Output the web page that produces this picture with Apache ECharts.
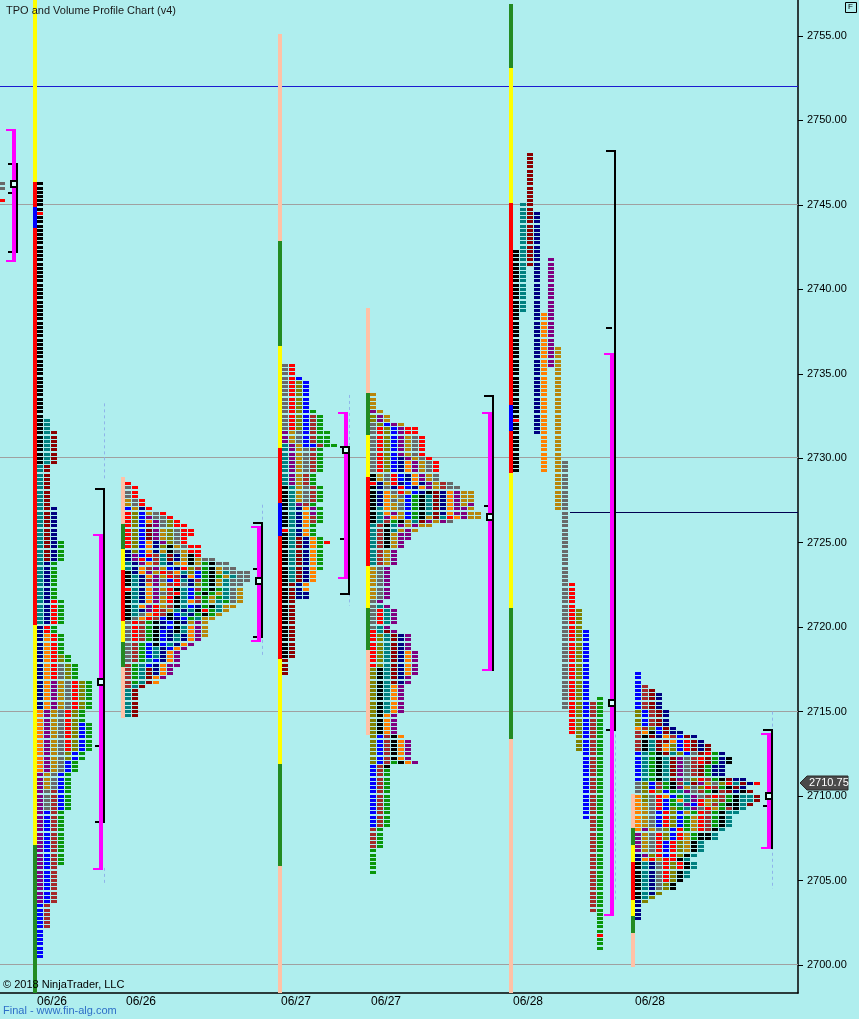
<!DOCTYPE html>
<html><head><meta charset="utf-8">
<script src="https://cdn.jsdelivr.net/npm/echarts@6/dist/echarts.min.js"></script>
<style>html,body{margin:0;padding:0;background:#AFEEEE;}#c{width:859px;height:1019px;}</style>
</head><body><div id="c"></div>
<script>
// ---------------- axis ranges / ticks ----------------
const Y_MIN = 2698.342, Y_MAX = 2757.131;
const X_MAX = 114;                 // x axis in TPO column slots
const yTicks = [2700, 2705, 2710, 2715, 2720, 2725, 2730, 2735, 2740, 2745, 2750, 2755];
const xLabelPos = [7.43, 20.14, 42.29, 55.14, 75.43, 92.86];
const xLabels = ['06/26', '06/26', '06/27', '06/27', '06/28', '06/28'];
const lastPrice = 2710.75;

// ---------------- sessions (A..G) ----------------
const barX = [-0.72, 4.71, 17.29, 39.71, 52.29, 72.71, 90.14];   // session start (slot)
const profTop = [2746.25, 2746.25, 2728.5, 2735.5, 2733.75, null, 2717.25];

// TPO rows: [row count, letters left to right]
const profA_rows = [[2, 'a'], [2, ''], [1, 'r']];
const profB_rows = [[7,'k'],[1,'r'],[48,'k'],[3,'kt'],[8,'ktm'],[10,'tm'],[8,'tmn'],[5,'tmng'],[9,'tng'],[6,'tnrg'],[2,'nrg'],[5,'norg'],[2,'norvg'],[4,'noravg'],[7,'nopdarvg'],[3,'opdarvg'],[7,'opdarvbg'],[2,'opdavbg'],[3,'opdabg'],[4,'pdabg'],[5,'pawbg'],[13,'pbwg'],[9,'pbw'],[6,'bw'],[7,'b']];
const profC_rows = [[1,'r'],[3,'ar'],[2,'dar'],[1,'bdnr'],[1,'rvbdar'],[1,'rvbpaar'],[1,'rvbopavr'],[1,'rvbmpavrr'],[2,'rvbmpdvarr'],[1,'rvbmpdvar'],[1,'rvbonpvar'],[1,'rvbonvkdarr'],[1,'nvbondkadrr'],[1,'npbrwtmndkr'],[1,'nprbwtmndkdaa'],[1,'tnpowtndokdgkaa'],[1,'tnowpdbnrvwgkdaa'],[1,'knopdrwotvbgkdtaaa'],[1,'ktnopdrwnobgkgdtaa'],[1,'ktnwpabrtnwgkdtaaa'],[1,'ktnopdwranvgkdtaa'],[1,'rtnopdrktbwgkgtad'],[1,'ktnopawrtbgkgdtad'],[1,'ktnopdrktbwgdgtad'],[1,'ktnopdrktowgdtgad'],[1,'ktoprdwktbngktdd'],[1,'ktnprwdtntkrgtd'],[1,'ktaorwkbtngkgd'],[1,'kaorwbknbgtdd'],[1,'arwgknbkndpd'],[1,'arwgknbktopd'],[1,'arwgkbnktopd'],[1,'arwgkbntnopd'],[1,'arwgkbntnop'],[1,'awgbkbtnop'],[1,'awgbtnbop'],[2,'awgbtnop'],[1,'awgtbnop'],[1,'wgtbnopp'],[2,'wgtmnop'],[1,'wgtmop'],[1,'wgtmo'],[1,'wtm'],[7,'tm']];
const profD_rows = [[3,'ar'],[1,'arb'],[7,'arvb'],[1,'arvbg'],[4,'arvbwg'],[3,'pdabwgg'],[1,'tpdbbwgg'],[6,'tpdawg'],[3,'tpdwg'],[4,'ktdawg'],[1,'ktpwg'],[2,'ktnopg'],[2,'ktnowg'],[1,'ktnog'],[1,'rtnog'],[1,'ktnog'],[1,'ktmnog'],[1,'ktmnogr'],[6,'ktmnog'],[3,'ktmno'],[2,'kmno'],[2,'kmnn'],[14,'km'],[4,'m']];
const profE_rows = [[4,'d'],[1,'pd'],[2,'vpd'],[1,'avbpd'],[2,'arvbprr'],[5,'arvbpdar'],[1,'arvbnpdar'],[3,'arvbnopdar'],[2,'kdarbnopda'],[1,'rndrnbonpdwa'],[1,'knanrbnopdwaa'],[1,'knoardbnkmnopdd'],[1,'knodabgktmnopdd'],[1,'knoadbgktmnopdd'],[1,'knodabgktmnopdp'],[1,'ktodabgktmnoppd'],[1,'ktopdbgktmnoppdd'],[1,'ktpodbgkdmtropdd'],[1,'ktwgkdtmpdpa'],[1,'twktpdpdd'],[1,'twktdpd'],[2,'twkdpp'],[2,'twkdp'],[4,'twdp'],[8,'dap'],[1,'ap'],[1,'atp'],[4,'artp'],[1,'atp'],[1,'rtmp'],[4,'rvtmnp'],[4,'rvtmnop'],[2,'vktmnop'],[2,'vktmnp'],[7,'vktop'],[5,'vkop'],[1,'vbwko'],[5,'vbwkop'],[1,'vbwgkop'],[1,'bwk'],[14,'bwg'],[5,'wg'],[6,'g']];
const profG_rows = [[3,'b'],[1,'bw'],[1,'bwm'],[4,'bwmn'],[4,'vbwmn'],[1,'owvbmn'],[1,'wokbmnn'],[1,'wkmnowbmn'],[1,'wktmmobrmn'],[2,'wktmovbrmnm'],[1,'btgkmtvbamrgn'],[2,'btgktmpawrmgnk'],[3,'btgktmpawmgnn'],[1,'btgktmpavrwgkmnn'],[1,'avbwgkwtmpdavrtmnr'],[1,'avbwgkpdavrwgkmn'],[1,'avrvbgtpawgkwmnkm'],[1,'ovarobgtpawrwgkttm'],[1,'ovarbgotprdvwgkttm'],[1,'odarbgtpbrdwgkktm'],[1,'odarbvgtpardgwkt'],[1,'odabrvbdgrwgktt'],[3,'odabrvbgdrwgkt'],[1,'opdavbrgdrwkt'],[2,'pdarvbrdgkkt'],[3,'pdarbrvdkt'],[1,'npvrbrvkt'],[1,'nordrrkt'],[2,'ktnarvrkt'],[2,'ktnarvkt'],[1,'ktnarvk'],[2,'ktnavk'],[1,'ktnv'],[1,'ktv'],[1,'nv'],[4,'n']];
// split profile F: [column, letter, high, low]
const profF_cols = [[0,'k',2742.25,2729.25],[1,'t',2745,2738.75],[2,'m',2748,2741.5],[3,'n',2744.5,2731.5],[4,'o',2738.5,2729.25],[5,'p',2741.75,2735.5],[6,'d',2736.5,2727],[7,'a',2729.75,2715.25],[8,'r',2722.5,2713.75],[9,'v',2721,2712.75],[10,'b',2719.75,2708.75],[11,'w',2715.5,2703.25],[12,'g',2715.75,2701]];
const profF_marks = [[0,'r',2732.25],[12,'r',2701.75]];

// period bars: [high row, low row, colour]
const barB = [[2760,2746.5,'Y'],[2746.25,2720.25,'R'],[2744.75,2743.75,'B'],[2720,2707.25,'Y'],[2707,2695,'G']];
const barC = [[2728.75,2726.25,'P'],[2726,2724.75,'G'],[2724.5,2723.5,'Y'],[2723.25,2720.5,'R'],[2720.25,2719.25,'Y'],[2719,2717.75,'G'],[2717.5,2714.75,'P']];
const barD = [[2755,2743,'P'],[2742.75,2736.75,'G'],[2736.5,2730.75,'Y'],[2730.5,2727.5,'R'],[2727.25,2725.5,'B'],[2725.25,2718.25,'R'],[2718,2712,'Y'],[2711.75,2706,'G'],[2705.75,2695,'P']];
const barE = [[2738.75,2734,'P'],[2733.75,2731.5,'G'],[2731.25,2729,'Y'],[2728.75,2723.75,'R'],[2723.5,2721.25,'Y'],[2721,2718.75,'G'],[2718.5,2713.75,'P']];
const barF = [[2756.75,2753.25,'G'],[2753,2745.25,'Y'],[2745,2729.25,'R'],[2733,2731.75,'B'],[2729,2721.25,'Y'],[2721,2713.5,'G'],[2713.25,2695,'P']];
const barG = [[2710,2708.25,'P'],[2708,2707.25,'G'],[2707,2706.25,'Y'],[2706,2704,'R'],[2703.75,2703,'Y'],[2702.75,2702,'G'],[2701.75,2700,'P']];

// value area (magenta), range (black), POC
const vaX = [1.71, 14.14, 36.71, 49.14, 69.71, 87.14, 109.57];
const vaHi = [2749.5, 2725.5, 2726, 2732.75, 2732.75, 2736.25, 2713.75];
const vaLo = [2741.75, 2705.75, 2719.25, 2723, 2717.5, 2703, 2707];
const rangeHi = [2747.5, 2728.25, 2726.25, 2730.75, 2733.75, 2748.25, 2714];
const rangeLo = [2742.25, 2708.5, 2719.5, 2722, 2717.5, 2714, 2707];
const rangeTick = [2745.75, 2713, 2723.5, 2725.25, 2727.25, 2737.75, 2709.5];
const pocPrice = [2746.25, 2716.75, 2722.75, 2730.5, 2726.5, 2715.5, 2710];
const dashSegs = [[1,2733.25,2728.75],[1,2705.75,2704.75],[2,2727.25,2725.5],[2,2719.25,2718.25],[3,2733.75,2730.75],[3,2722,2721.25],[5,2714,2703.75],[6,2715,2713.75],[6,2707,2704.5]];

// horizontal lines
const grayLevels = [2745, 2730, 2715, 2700];
const blueLevel = 2752;
const nakedPoc = [81.43, 2726.75];

// ---------------- colours ----------------
const keys = 'ktmngropdavbwPGYRB';
const cols = ['#000000','#008080','#8B0000','#000080','#0A960A','#FF0000','#FF8000','#800080','#B8860B','#696969','#808000','#0000FF','#A52A2A',
              '#FFC1A6','#228B22','#FFFF00','#FF0000','#0000FF'];
const CELL_OFF = 4 / 7, CELL_W = 6 / 7, BAR_W = 4 / 7;

// ---------------- build cells ----------------
const cells = [];
function addRows(si, rows) {
  let price = profTop[si];
  const x0 = barX[si] + CELL_OFF;
  rows.forEach(([n, s]) => {
    for (let j = 0; j < n; j++) {
      for (let k = 0; k < s.length; k++) cells.push([x0 + k, price, keys.indexOf(s[k])]);
      price -= 0.25;
    }
  });
}
addRows(0, profA_rows); addRows(1, profB_rows); addRows(2, profC_rows);
addRows(3, profD_rows); addRows(4, profE_rows); addRows(6, profG_rows);
(function () {
  const x0 = barX[5] + CELL_OFF;
  profF_cols.forEach(([k, l, hi, lo]) => {
    for (let p = hi; p >= lo - 1e-6; p -= 0.25) {
      const m = profF_marks.find(q => q[0] === k && Math.abs(q[2] - p) < 1e-6);
      cells.push([x0 + k, p, keys.indexOf(m ? m[1] : l)]);
    }
  });
})();

const bars = [];
[[1, barB], [2, barC], [3, barD], [4, barE], [5, barF], [6, barG]].forEach(([si, segs]) => {
  segs.forEach(([hi, lo, c]) => bars.push([barX[si], hi, lo, keys.indexOf(c)]));
});

// ---------------- chart ----------------
const chart = echarts.init(document.getElementById('c'), null, { width: 859, height: 1019 });
const FONT = "'Liberation Sans', Arial, sans-serif";

chart.setOption({
  animation: false,
  backgroundColor: '#AFEEEE',
  grid: { left: 0, top: 0, right: 61, bottom: 26, containLabel: false },
  xAxis: {
    type: 'value', min: 0, max: X_MAX, position: 'bottom',
    axisLine: { show: true, onZero: false, lineStyle: { color: '#000', width: 1.5 } },
    axisTick: { show: false },
    splitLine: { show: false },
    axisLabel: {
      customValues: xLabelPos, margin: 3, color: '#000', fontSize: 12, fontFamily: FONT,
      formatter: v => { const i = xLabelPos.findIndex(q => Math.abs(q - v) < 1e-6); return i >= 0 ? xLabels[i] : ''; }
    }
  },
  yAxis: {
    type: 'value', min: Y_MIN, max: Y_MAX, position: 'right',
    axisLine: { show: true, onZero: false, lineStyle: { color: '#000', width: 1.5 } },
    axisTick: { show: true, inside: false, length: 5, customValues: yTicks, lineStyle: { color: '#000' } },
    splitLine: { show: false },
    axisLabel: { customValues: yTicks, margin: 9, color: '#000', fontSize: 11, fontFamily: FONT, formatter: v => v.toFixed(2) }
  },
  graphic: [
    { type: 'text', z: 100, left: 6, top: 5, style: { text: 'TPO and Volume Profile Chart (v4)', fill: '#1a1a1a', font: '11px ' + FONT } },
    { type: 'text', z: 100, left: 3, top: 979, style: { text: '\u00A9 2018 NinjaTrader, LLC', fill: '#000', font: '11px ' + FONT } },
    { type: 'text', z: 100, left: 3, top: 1005, style: { text: 'Final - www.fin-alg.com', fill: '#2E6FC8', font: '11px ' + FONT } },
    { type: 'rect', z: 100, left: 845, top: 2, shape: { width: 11, height: 10 }, style: { fill: '#AFEEEE', stroke: '#000', lineWidth: 1 } },
    { type: 'text', z: 101, left: 848, top: 3, style: { text: 'F', fill: '#000', font: '8px ' + FONT } }
  ],
  series: [
    { // horizontal reference lines
      type: 'custom', clip: true, silent: true, z: 1,
      data: grayLevels.map(p => [0, p, 0]).concat([[0, blueLevel, 1], [nakedPoc[0], nakedPoc[1], 2]]),
      renderItem: (params, api) => {
        const a = api.coord([api.value(0), api.value(1)]);
        const b = api.coord([X_MAX, api.value(1)]);
        const t = api.value(2);
        const y = Math.round(a[1]) - 0.5;
        return { type: 'line', shape: { x1: a[0], y1: y, x2: b[0], y2: y },
          style: { stroke: t === 0 ? '#A0A0A0' : (t === 1 ? '#1A1AD0' : '#000050'), lineWidth: 1 } };
      }
    },
    { // period bars
      type: 'custom', clip: true, silent: true, z: 2, data: bars,
      renderItem: (params, api) => {
        const a = api.coord([api.value(0), api.value(1) + 0.125]);
        const b = api.coord([api.value(0) + BAR_W, api.value(2) - 0.125]);
        const x = Math.round(a[0]);
        return { type: 'rect', shape: { x: x, y: Math.round(a[1]), width: Math.round(b[0]) - x, height: Math.round(b[1]) - Math.round(a[1]) },
          style: { fill: cols[api.value(3)] } };
      }
    },
    { // TPO cells
      type: 'custom', clip: true, silent: true, z: 3, data: cells,
      renderItem: (params, api) => {
        const a = api.coord([api.value(0), api.value(1)]);
        const b = api.coord([api.value(0) + CELL_W, api.value(1)]);
        const x = Math.round(a[0]);
        return { type: 'rect', shape: { x: x, y: Math.round(a[1] - 1.5), width: Math.round(b[0]) - x, height: 3 },
          style: { fill: cols[api.value(2)] } };
      }
    },
    { // dashed extensions
      type: 'custom', clip: true, silent: true, z: 4, data: dashSegs,
      renderItem: (params, api) => {
        const si = api.value(0);
        const a = api.coord([vaX[si], api.value(1)]);
        const b = api.coord([vaX[si], api.value(2)]);
        const x = Math.round(a[0]) + 5.5;
        return { type: 'line', shape: { x1: x, y1: a[1], x2: x, y2: b[1] }, style: { stroke: '#8FB4EA', lineWidth: 1, lineDash: [3, 3] } };
      }
    },
    { // value area / range brackets / POC
      type: 'custom', clip: true, silent: true, z: 5,
      data: vaX.map((v, i) => [v, pocPrice[i]]),
      renderItem: (params, api) => {
        const i = params.dataIndex;
        const mx = Math.round(api.coord([vaX[i], Y_MIN])[0]);
        const Y = p => Math.round(api.coord([0, p])[1]);
        const R = (x, y, w, h, f) => ({ type: 'rect', shape: { x, y, width: w, height: h }, style: { fill: f } });
        const rh = Y(rangeHi[i]), rl = Y(rangeLo[i]), vh = Y(vaHi[i]), vl = Y(vaLo[i]), py = Y(pocPrice[i]);
        const ch = [
          R(mx + 4, rh, 2, rl - rh + 2, '#000'),
          R(mx - 4, rh, 10, 2, '#000'),
          R(mx - 4, rl, 10, 2, '#000'),
          R(mx - 4, Y(rangeTick[i]), 6, 2, '#000'),
          R(mx, vh, 4, vl - vh + 2, '#FF00FF'),
          R(mx - 6, vh, 10, 2, '#FF00FF'),
          R(mx - 6, vl, 10, 2, '#FF00FF'),
          { type: 'rect', shape: { x: mx - 1, y: py - 3, width: 6, height: 6 }, style: { fill: '#D8FFFF', stroke: '#000', lineWidth: 2 } }
        ];
        return { type: 'group', children: ch };
      }
    },
    { // last price tag
      type: 'custom', clip: false, silent: true, z: 6, data: [[X_MAX, lastPrice]],
      renderItem: (params, api) => {
        const a = api.coord([api.value(0), api.value(1)]);
        const x = Math.round(a[0]) + 2, y = Math.round(a[1]);
        return { type: 'group', children: [
          { type: 'polygon', shape: { points: [[x, y], [x + 7, y - 7], [x + 48, y - 7], [x + 48, y + 7], [x + 7, y + 7]] },
            style: { fill: '#4A4A4A', stroke: '#2A2A2A', lineWidth: 1 } },
          { type: 'text', style: { x: x + 9, y: y, text: lastPrice.toFixed(2), fill: '#FFFFFF', font: '11px ' + FONT, verticalAlign: 'middle' } }
        ] };
      }
    }
  ]
});
</script></body></html>
